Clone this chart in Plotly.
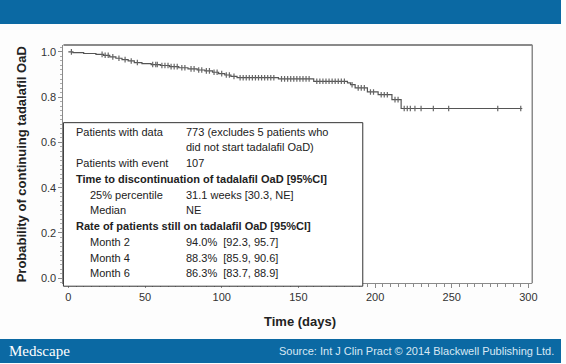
import plotly.graph_objects as go

W, H = 566, 364

# Kaplan-Meier step data
event_days = [0, 3, 10, 18, 23, 27, 31, 35, 39, 43, 48, 54, 60, 66, 72, 78, 84, 89, 94, 98, 102, 106, 110,
              137, 160, 182, 184, 187, 195, 202, 211, 217]
surv = [1.000, 0.997, 0.993, 0.989, 0.985, 0.978, 0.972, 0.966, 0.960, 0.953, 0.948, 0.944, 0.940, 0.935,
        0.930, 0.925, 0.920, 0.916, 0.910, 0.904, 0.898, 0.892, 0.886, 0.881, 0.870, 0.863, 0.855, 0.841,
        0.823, 0.811, 0.789, 0.750]
last_day = 296

censor_days = [2, 22, 24, 26, 29, 33, 37, 41, 45, 55, 57, 58, 61, 63, 65, 67, 69, 71, 74, 76, 80, 82, 85, 87,
               90, 92, 95, 97, 100, 103, 105, 108, 112, 114, 116, 118, 120, 122, 124, 126, 128, 130, 132,
               134, 139, 141, 143, 145, 147, 149, 151, 153, 155, 157, 162, 164, 166, 168, 170, 172, 174,
               176, 178, 180, 185, 189, 191, 193, 197, 199, 204, 206, 208, 213, 215, 219, 221, 223, 226,
               230, 238, 248, 280, 295]

x_ticks = [0, 50, 100, 150, 200, 250, 300]
y_ticks = [0.0, 0.2, 0.4, 0.6, 0.8, 1.0]

box_rows = [
    ("Patients with data", "773 (excludes 5 patients who", False, False),
    ("", "did not start tadalafil OaD)", False, False),
    ("Patients with event", "107", False, False),
    ("Time to discontinuation of tadalafil OaD [95%CI]", "", True, False),
    ("25% percentile", "31.1 weeks [30.3, NE]", False, True),
    ("Median", "NE", False, True),
    ("Rate of patients still on tadalafil OaD [95%CI]", "", True, False),
    ("Month 2", "94.0%  [92.3, 95.7]", False, True),
    ("Month 4", "88.3%  [85.9, 90.6]", False, True),
    ("Month 6", "86.3%  [83.7, 88.9]", False, True),
]


def surv_at(d):
    s = surv[0]
    for t, v in zip(event_days, surv):
        if t <= d:
            s = v
    return s


def px(x):
    return x / W


def py(y):
    return 1 - y / H


step_x = event_days + [last_day]
step_y = surv + [surv[-1]]

fig = go.Figure()
fig.add_trace(go.Scatter(x=step_x, y=step_y, mode="lines", line=dict(shape="hv", color="#555555", width=1.2),
                         hoverinfo="skip", showlegend=False))
fig.add_trace(go.Scatter(x=censor_days, y=[surv_at(d) for d in censor_days], mode="markers",
                         marker=dict(symbol="line-ns-open", size=4, color="#666666",
                                     line=dict(color="#666666", width=1.2)),
                         hoverinfo="skip", showlegend=False))

XL, XR, YT, YB = 64, 537, 45, 284
font = "Liberation Sans, Arial, sans-serif"
axis_common = dict(showgrid=False, zeroline=False, showline=True, linecolor="#8a8a8a", linewidth=1,
                   ticks="outside", ticklen=4, tickcolor="#8a8a8a", tickfont=dict(size=11, color="#333333", family=font))

fig.update_layout(
    width=W, height=H, margin=dict(l=0, r=0, t=0, b=0),
    paper_bgcolor="#fdfdfd", plot_bgcolor="white",
    xaxis=dict(domain=[px(XL), px(XR)], range=[-3.2, 302.5], tickvals=x_ticks,
               ticktext=[str(v) for v in x_ticks], minor=dict(dtick=5, ticklen=3, tickcolor="#8a8a8a", ticks="outside"),
               **axis_common),
    yaxis=dict(domain=[py(YB), py(YT)], range=[-0.022, 1.031], tickvals=y_ticks,
               ticktext=[f"{v:.1f}" for v in y_ticks], minor=dict(dtick=0.02, ticklen=2, tickcolor="#aaaaaa", ticks="outside"),
               **axis_common),
    font=dict(family=font),
    hovermode=False,
)

shapes = [
    dict(type="rect", xref="paper", yref="paper", x0=0, x1=1, y0=py(24), y1=1, fillcolor="#0b69a3", line_width=0, layer="below"),
    dict(type="rect", xref="paper", yref="paper", x0=0, x1=1, y0=0, y1=py(340), fillcolor="#0b69a3", line_width=0, layer="below"),
    # frame top and right
    dict(type="line", xref="paper", yref="paper", x0=px(XL), x1=px(XR), y0=py(YT), y1=py(YT), line=dict(color="#8a8a8a", width=2)),
    dict(type="line", xref="paper", yref="paper", x0=px(XR), x1=px(XR), y0=py(YT), y1=py(YB), line=dict(color="#8a8a8a", width=1.5)),
    # info box
    dict(type="rect", xref="paper", yref="paper", x0=px(XL), x1=px(366), y0=py(YB + 3), y1=py(123),
         fillcolor="white", line=dict(color="#333333", width=1)),
]
fig.update_layout(shapes=shapes)

ann = []
row_y0, row_dy = 132, 15.8
for i, (lab, val, bold, indent) in enumerate(box_rows):
    yy = row_y0 + i * row_dy
    if lab:
        t = f"<b>{lab}</b>" if bold else lab
        ann.append(dict(x=px(89 if indent else 75), y=py(yy), xref="paper", yref="paper", text=t, showarrow=False,
                        xanchor="left", yanchor="middle", font=dict(size=11, color="#222222", family=font)))
    if val:
        ann.append(dict(x=px(186), y=py(yy), xref="paper", yref="paper", text=val, showarrow=False,
                        xanchor="left", yanchor="middle", font=dict(size=11, color="#222222", family=font)))

ann.append(dict(x=px(22), y=py(165), xref="paper", yref="paper", text="<b>Probability of continuing tadalafil OaD</b>",
                textangle=-90, showarrow=False, xanchor="center", yanchor="middle",
                font=dict(size=13, color="#222222", family=font)))
ann.append(dict(x=px(303), y=py(322), xref="paper", yref="paper", text="<b>Time (days)</b>", showarrow=False,
                xanchor="center", yanchor="middle", font=dict(size=13, color="#222222", family=font)))
ann.append(dict(x=px(7), y=py(352), xref="paper", yref="paper", text="Medscape", showarrow=False,
                xanchor="left", yanchor="middle", font=dict(size=15, color="white", family="Liberation Serif, serif")))
ann.append(dict(x=px(561), y=py(352), xref="paper", yref="paper",
                text="Source: Int J Clin Pract \u00a9 2014 Blackwell Publishing Ltd.", showarrow=False,
                xanchor="right", yanchor="middle", font=dict(size=11, color="#d8e8f4", family=font)))
fig.update_layout(annotations=ann)

fig.write_html("out.html", config={"displayModeBar": False},
               post_script="document.body.style.margin='0';document.body.style.overflow='hidden';")
